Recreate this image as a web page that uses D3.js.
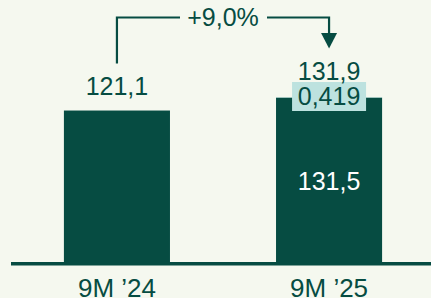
<!DOCTYPE html>
<html>
<head>
<meta charset="utf-8">
<script src="https://cdn.jsdelivr.net/npm/d3@7"></script>
<style>
html,body{margin:0;padding:0;background:#f5f8ef;}
svg{display:block;}
text{font-family:"Liberation Sans",Arial,sans-serif;}
</style>
</head>
<body>
<svg id="c" width="431" height="298"></svg>
<script>
const categories = ["9M \u201924", "9M \u201925"];
const baseValues = [121.1, 131.5];
const extraValues = [0, 0.419];
const totalLabels = ["121,1", "131,9"];
const baseLabels = ["", "131,5"];
const extraLabels = ["", "0,419"];
const growthLabel = "+9,0%";

(function () {
const W = 431, H = 298;
const dark = "#064c42", light = "#bde2df", bg = "#f5f8ef";
const svg = d3.select("#c");
svg.append("rect").attr("width", W).attr("height", H).attr("fill", bg);

const totals = baseValues.map((v, i) => v + extraValues[i]);
const x = d3.scaleBand().domain(categories).range([13, 433]).paddingInner(0.5).paddingOuter(0.24);
const y = d3.scaleLinear().domain([0, d3.max(totals)]).range([262, 97]);
const cx = c => x(c) + x.bandwidth() / 2;

svg.selectAll("rect.base").data(categories).join("rect")
  .attr("x", d => x(d)).attr("width", x.bandwidth())
  .attr("y", (d, i) => y(baseValues[i])).attr("height", (d, i) => y(0) - y(baseValues[i]))
  .attr("fill", dark);
svg.selectAll("rect.extra").data(categories).join("rect")
  .attr("x", d => x(d)).attr("width", x.bandwidth())
  .attr("y", (d, i) => y(totals[i])).attr("height", (d, i) => y(baseValues[i]) - y(totals[i]))
  .attr("fill", light);

const axis = d3.axisBottom(x).tickSize(0).tickPadding(14);
const gA = svg.append("g").attr("transform", `translate(0,${y(0) + 1.75})`).call(axis);
gA.select(".domain").remove();
gA.append("line").attr("x1", 11).attr("x2", W).attr("y1", 0).attr("y2", 0)
  .attr("stroke", dark).attr("stroke-width", 3.5);
gA.selectAll(".tick text").attr("font-size", 26).attr("fill", dark)
  .attr("font-family", "Liberation Sans, Arial, sans-serif")
  .attr("dy", null).attr("y", 33);

categories.forEach((c, i) => {
  if (extraLabels[i]) {
    const bx = cx(c);
    svg.append("rect").attr("x", bx - 37).attr("y", y(totals[i]) - 15).attr("width", 74).attr("height", 29)
      .attr("fill", light);
    svg.append("text").attr("x", bx).attr("y", y(totals[i]) + 7.5).attr("text-anchor", "middle")
      .attr("font-size", 25).attr("fill", dark).text(extraLabels[i]);
  }
  if (baseLabels[i]) {
    svg.append("text").attr("x", cx(c)).attr("y", 190).attr("text-anchor", "middle")
      .attr("font-size", 25).attr("fill", "#ffffff").text(baseLabels[i]);
  }
});
svg.append("text").attr("x", cx(categories[0])).attr("y", y(totals[0]) - 15.5).attr("text-anchor", "middle")
  .attr("font-size", 25).attr("fill", dark).text(totalLabels[0]);
svg.append("text").attr("x", cx(categories[1])).attr("y", y(totals[1]) - 17).attr("text-anchor", "middle")
  .attr("font-size", 25).attr("fill", dark).text(totalLabels[1]);

const x1 = cx(categories[0]), x2 = cx(categories[1]), yTop = 17.5, mid = (x1 + x2) / 2;
svg.append("path")
  .attr("d", `M${x1},${y(totals[0]) - 47}V${yTop}H${mid - 43}`)
  .attr("fill", "none").attr("stroke", dark).attr("stroke-width", 2.2);
svg.append("path")
  .attr("d", `M${mid + 44},${yTop}H${x2}V34`)
  .attr("fill", "none").attr("stroke", dark).attr("stroke-width", 2.2);
svg.append("path")
  .attr("d", `M${x2 - 8},33L${x2 + 8},33L${x2},48.5Z`).attr("fill", dark);
svg.append("text").attr("x", mid).attr("y", 26).attr("text-anchor", "middle")
  .attr("font-size", 25).attr("fill", dark).text(growthLabel);
})();
</script>
</body>
</html>
